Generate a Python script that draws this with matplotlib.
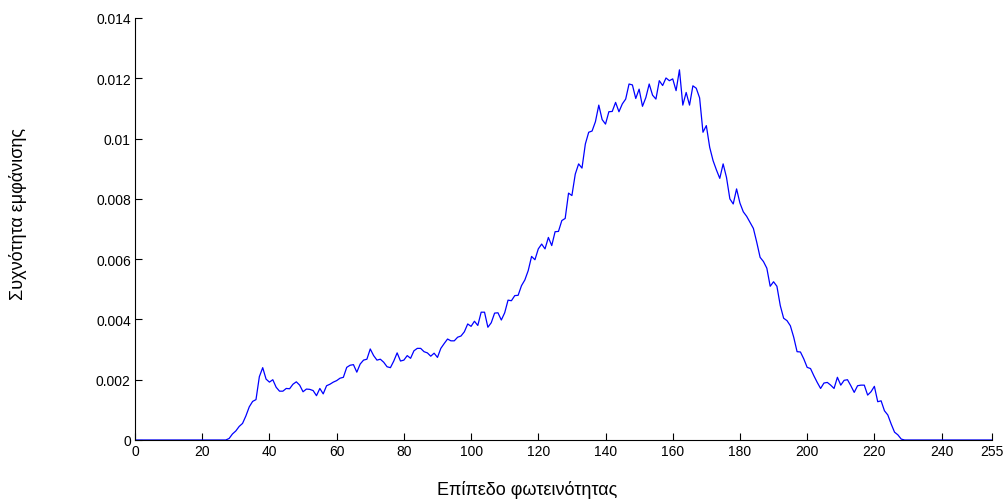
import numpy as np
import matplotlib.pyplot as plt

plt.rcParams['font.family'] = ['Liberation Sans', 'DejaVu Sans']

# Normalised histogram of grey levels (0..255)
levels = np.arange(256)
freq = np.zeros(256)
freq[28:229] = [
    0.00005, 0.0002, 0.0003, 0.00045, 0.00055, 0.0008, 0.0011, 0.00128, 0.00134, 0.0021,   # 28-37
    0.0024, 0.00202, 0.00192, 0.0020, 0.00175, 0.00162, 0.00162, 0.00171, 0.0017, 0.00185,  # 38-47
    0.00193, 0.00182, 0.0016, 0.00169, 0.00168, 0.00164, 0.00147, 0.00171, 0.00153, 0.0018, # 48-57
    0.00185, 0.00192, 0.00197, 0.00205, 0.00208, 0.00241, 0.00248, 0.0025, 0.00225, 0.00252, # 58-67
    0.00265, 0.00268, 0.00302, 0.0028, 0.00265, 0.00268, 0.00258, 0.00243, 0.0024, 0.00262,  # 68-77
    0.00289, 0.00262, 0.00265, 0.0028, 0.00271, 0.00296, 0.00304, 0.00304, 0.00293, 0.00289, # 78-87
    0.00278, 0.00288, 0.00274, 0.00304, 0.0032, 0.00335, 0.00329, 0.00329, 0.00341, 0.00345, # 88-97
    0.00359, 0.00385, 0.00377, 0.00394, 0.0038, 0.00424, 0.00424, 0.00374, 0.00389, 0.00421, # 98-107
    0.00422, 0.00398, 0.00422, 0.00464, 0.00462, 0.00479, 0.0048, 0.00512, 0.00531, 0.00562, # 108-117
    0.00609, 0.00598, 0.00634, 0.0065, 0.00634, 0.00672, 0.00645, 0.00691, 0.00692, 0.00728, # 118-127
    0.00735, 0.00819, 0.00811, 0.00882, 0.00916, 0.00902, 0.00982, 0.01021, 0.01025, 0.01056, # 128-137
    0.01111, 0.01063, 0.01048, 0.01089, 0.0109, 0.0112, 0.01089, 0.01115, 0.01131, 0.01181,  # 138-147
    0.01178, 0.01133, 0.01164, 0.01107, 0.01136, 0.01181, 0.01144, 0.01131, 0.01192, 0.01176, # 148-157
    0.01201, 0.01192, 0.01198, 0.01159, 0.01228, 0.01111, 0.01153, 0.01111, 0.01175, 0.01167, # 158-167
    0.01135, 0.01021, 0.01043, 0.00971, 0.00927, 0.00896, 0.00868, 0.00916, 0.00871, 0.008,  # 168-177
    0.00783, 0.00833, 0.00786, 0.00757, 0.00742, 0.00722, 0.00702, 0.00656, 0.00606, 0.00592, # 178-187
    0.0057, 0.0051, 0.00525, 0.0051, 0.00446, 0.00404, 0.00396, 0.00379, 0.00341, 0.00293,   # 188-197
    0.00292, 0.00269, 0.00241, 0.00237, 0.00213, 0.00191, 0.00171, 0.00189, 0.00191, 0.00182, # 198-207
    0.00171, 0.00208, 0.00182, 0.00198, 0.002, 0.0018, 0.00158, 0.0018, 0.00182, 0.00182,     # 208-217
    0.00149, 0.0016, 0.00178, 0.00127, 0.0013, 0.00097, 0.00083, 0.00053, 0.00026, 0.00017,   # 218-227
    0.00003,                                                                                 # 228
]

x_ticks = [0, 20, 40, 60, 80, 100, 120, 140, 160, 180, 200, 220, 240, 255]
y_ticks = [0, 0.002, 0.004, 0.006, 0.008, 0.01, 0.012, 0.014]

fig = plt.figure(figsize=(10.04, 5.02), dpi=100)
ax = fig.add_axes([135 / 1004, 1 - 441 / 502, 857 / 1004, 422 / 502])

ax.plot(levels, freq, color='#0000ff', linewidth=0.9)

ax.set_xlim(0, 255)
ax.set_ylim(0, 0.014)
ax.set_xticks(x_ticks)
ax.set_yticks(y_ticks)
ax.set_yticklabels(['%g' % t for t in y_ticks])

for side in ('top', 'right'):
    ax.spines[side].set_visible(False)
for side in ('left', 'bottom'):
    ax.spines[side].set_linewidth(0.8)

ax.tick_params(direction='in', length=5, width=0.8, labelsize=10, pad=3)

ax.set_xlabel('Επίπεδο φωτεινότητας', fontsize=13)
ax.set_ylabel('Συχνότητα εμφάνισης', fontsize=13)
ax.xaxis.set_label_coords(0.457, -0.116)
ax.yaxis.set_label_coords(-0.1365, 0.538)
ax.xaxis.label.set_va('center')
ax.yaxis.label.set_va('center')

fig.savefig('out.png', dpi=100)
